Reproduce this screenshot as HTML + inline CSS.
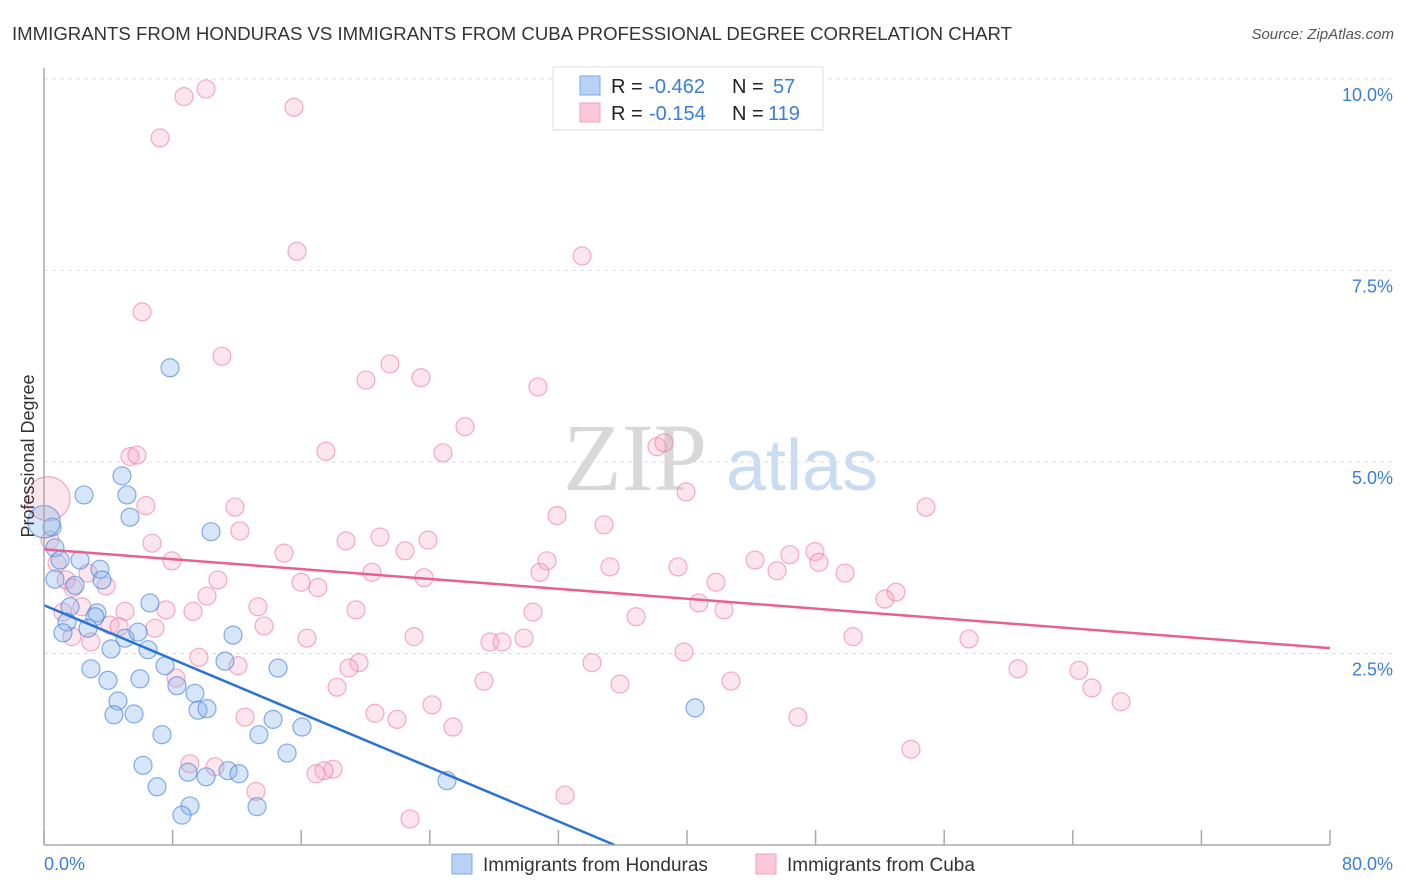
<!DOCTYPE html>
<html><head><meta charset="utf-8"><style>
body{margin:0;background:#fff;font-family:"Liberation Sans",sans-serif}
svg{display:block}
</style></head><body>
<svg id="chart" width="1406" height="892" xmlns="http://www.w3.org/2000/svg">
<text x="12" y="40" font-size="18" fill="#333" textLength="1000" lengthAdjust="spacingAndGlyphs">IMMIGRANTS FROM HONDURAS VS IMMIGRANTS FROM CUBA PROFESSIONAL DEGREE CORRELATION CHART</text>
<text x="1394" y="39" font-size="15" fill="#555" font-style="italic" text-anchor="end">Source: ZipAtlas.com</text>
<text x="635" y="490" font-size="96" fill="#d8d8d8" font-family="Liberation Serif,serif" text-anchor="middle">ZIP</text>
<text x="802" y="490" font-size="72" fill="#c9dcf2" text-anchor="middle">atlas</text>
<g id="grid"></g><g id="marks"></g><g id="axes"></g>
<text transform="translate(34,456) rotate(-90)" font-size="18" fill="#333" text-anchor="middle">Professional Degree</text>
<g>
<rect x="553" y="67" width="270" height="63" fill="#fff" stroke="#ddd"/>
<rect x="580" y="76" width="20" height="19" fill="#b7d2f5" stroke="#7aa8e6"/>
<rect x="580" y="103" width="20" height="19" fill="#fbc8d7" stroke="#f0a0b9"/>
<text x="611" y="93" font-size="20" fill="#222">R = <tspan fill="#3b7dd8">-0.462</tspan><tspan x="732">N = </tspan><tspan x="773" fill="#3b7dd8">57</tspan></text>
<text x="611" y="120" font-size="20" fill="#222">R = <tspan x="649" fill="#3b7dd8">-0.154</tspan><tspan x="732">N = </tspan><tspan x="768" fill="#3b7dd8">119</tspan></text>
</g>
<g>
<rect x="452" y="854" width="20" height="20" fill="#b7d2f5" stroke="#7aa8e6"/>
<text x="483" y="871" font-size="19" fill="#333">Immigrants from Honduras</text>
<rect x="756" y="854" width="20" height="20" fill="#fbc8d7" stroke="#f0a0b9"/>
<text x="787" y="871" font-size="19" fill="#333">Immigrants from Cuba</text>
</g>
</svg>
<script>
const yTicks=[2.5,5.0,7.5,10.0];
const yTickLabels=["2.5%","5.0%","7.5%","10.0%"];
const xTicks=[0,8,16,24,32,40,48,56,64,72,80];
const xEndLabels=["0.0%","80.0%"];
const hondX=[7.84,2.49,5.16,4.85,5.35,10.39,0.68,1.0,2.24,0.68,1.93,3.48,3.61,1.62,3.30,3.17,6.59,1.43,2.74,1.18,5.04,5.85,11.76,4.17,6.47,7.53,11.26,14.56,2.92,3.98,5.97,8.27,9.39,4.6,9.58,10.14,4.35,5.6,14.25,16.05,7.34,13.37,15.12,6.16,8.96,10.08,11.45,12.13,7.03,9.08,8.58,13.25,25.07,40.5,0.5,0];
const hondY=[6.23,4.57,4.57,4.82,4.28,4.09,3.88,3.72,3.72,3.47,3.39,3.60,3.46,3.11,3.03,2.98,3.16,2.91,2.83,2.77,2.70,2.78,2.74,2.56,2.55,2.34,2.40,2.31,2.30,2.15,2.17,2.08,1.98,1.88,1.76,1.78,1.70,1.71,1.64,1.54,1.44,1.44,1.20,1.04,0.95,0.89,0.97,0.93,0.76,0.51,0.39,0.50,0.84,1.79,4.15,4.22];
const hondSize=[1,1,1,1,1,1,1,1,1,1,1,1,1,1,1,1,1,1,1,1,1,1,1,1,1,1,1,1,1,1,1,1,1,1,1,1,1,1,1,1,1,1,1,1,1,1,1,1,1,1,1,1,1,1,1,1.8];
const cubaX=[10.08,8.71,15.55,7.22,15.74,33.47,6.1,11.07,21.52,20.03,23.45,30.73,26.19,17.54,24.82,5.35,5.78,38.13,38.57,39.94,6.34,11.88,31.91,54.87,34.84,12.19,20.9,6.72,18.79,23.89,14.93,22.46,7.96,31.29,44.23,46.4,47.96,48.21,45.6,49.83,39.44,35.21,30.85,20.4,10.82,23.64,15.99,17.04,41.8,3.86,53.0,52.31,10.14,40.74,13.31,5.04,9.27,7.59,2.36,19.41,30.42,42.3,1.18,4.1,6.9,36.83,13.69,4.67,1.74,2.92,16.36,23.02,29.86,27.74,28.49,50.33,57.54,9.64,12.07,19.6,18.97,34.09,39.81,60.59,64.38,65.19,67.0,27.37,35.83,42.74,18.23,8.21,24.14,20.59,21.96,12.5,25.44,46.9,53.93,9.08,10.64,17.98,17.42,16.92,13.19,32.41,22.77,0.25,0.37,0.81,1.37,1.8,2.74];
const cubaY=[9.87,9.77,9.63,9.23,7.75,7.69,6.96,6.38,6.28,6.07,6.10,5.98,5.46,5.14,5.12,5.07,5.09,5.20,5.25,4.61,4.43,4.41,4.30,4.41,4.18,4.10,4.02,3.94,3.97,3.98,3.81,3.84,3.71,3.71,3.72,3.79,3.83,3.69,3.58,3.55,3.63,3.63,3.56,3.56,3.46,3.49,3.43,3.36,3.43,3.38,3.30,3.21,3.25,3.16,3.11,3.05,3.05,3.07,3.11,3.07,3.04,3.07,3.04,2.87,2.83,2.98,2.86,2.85,2.72,2.65,2.70,2.72,2.70,2.65,2.65,2.72,2.69,2.45,2.34,2.38,2.31,2.38,2.52,2.30,2.28,2.05,1.87,2.14,2.10,2.14,2.06,2.18,1.83,1.72,1.64,1.67,1.54,1.67,1.25,1.06,1.02,0.99,0.97,0.93,0.70,0.65,0.34,4.52,3.98,3.68,3.46,3.36,3.55];
const hondTrendX=[0,35.5];
const hondTrendY=[3.13,0];
const cubaTrendX=[0,80];
const cubaTrendY=[3.86,2.57];

const X0=44,X1=1330,Y0=845,PX_PER=76.6;
const sx=v=>X0+(v/80)*(X1-X0);
const sy=v=>Y0-v*PX_PER;
const NS="http://www.w3.org/2000/svg";
function mk(tag,attrs,parent){const e=document.createElementNS(NS,tag);for(const k in attrs)e.setAttribute(k,attrs[k]);parent.appendChild(e);return e;}
const grid=document.getElementById('grid'),marks=document.getElementById('marks'),axes=document.getElementById('axes');
yTicks.forEach((t,i)=>{
  const l=mk('line',{x1:X0,x2:1395,y1:sy(t),y2:sy(t),stroke:'#ddd','stroke-dasharray':'4,4'},grid);
  
  
  const tx=mk('text',{x:1393,y:sy(t)+22,'font-size':18,fill:'#3b7dd8','text-anchor':'end'},axes);
  tx.textContent=yTickLabels[i];
  
  
});
const ya=mk('line',{x1:X0,x2:X0,y1:68,y2:Y0,stroke:'#aaa','stroke-width':1.5},axes);


const xa=mk('line',{x1:X0,x2:X1,y1:Y0,y2:Y0,stroke:'#aaa','stroke-width':1.5},axes);


xTicks.forEach(t=>{
  const l=mk('line',{x1:sx(t),x2:sx(t),y1:Y0-15,y2:Y0,stroke:'#aaa','stroke-width':1.5},axes);
  
  
});
const xl0=mk('text',{x:44,y:870,'font-size':18,fill:'#3b7dd8'},axes);xl0.textContent=xEndLabels[0];


const xl1=mk('text',{x:1393,y:870,'font-size':18,fill:'#3b7dd8','text-anchor':'end'},axes);xl1.textContent=xEndLabels[1];


cubaX.forEach((x,i)=>{
  const c=mk('circle',{cx:sx(x),cy:sy(cubaY[i]),r:i===107?22:9,fill:'rgba(246,160,188,0.28)',stroke:'rgba(236,120,160,0.6)','stroke-width':1.2},marks);
  
  
});
hondX.forEach((x,i)=>{
  const c=mk('circle',{cx:sx(x),cy:sy(hondY[i]),r:9*hondSize[i],fill:'rgba(140,180,235,0.35)',stroke:'rgba(70,130,220,0.65)','stroke-width':1.2},marks);
  
  
});
const t1=mk('line',{x1:sx(cubaTrendX[0]),y1:sy(cubaTrendY[0]),x2:sx(cubaTrendX[1]),y2:sy(cubaTrendY[1]),stroke:'#e8608f','stroke-width':2.5},marks);


const t2=mk('line',{x1:sx(hondTrendX[0]),y1:sy(hondTrendY[0]),x2:sx(hondTrendX[1]),y2:sy(hondTrendY[1]),stroke:'#2a72d8','stroke-width':2.5},marks);


</script>
</body></html>
